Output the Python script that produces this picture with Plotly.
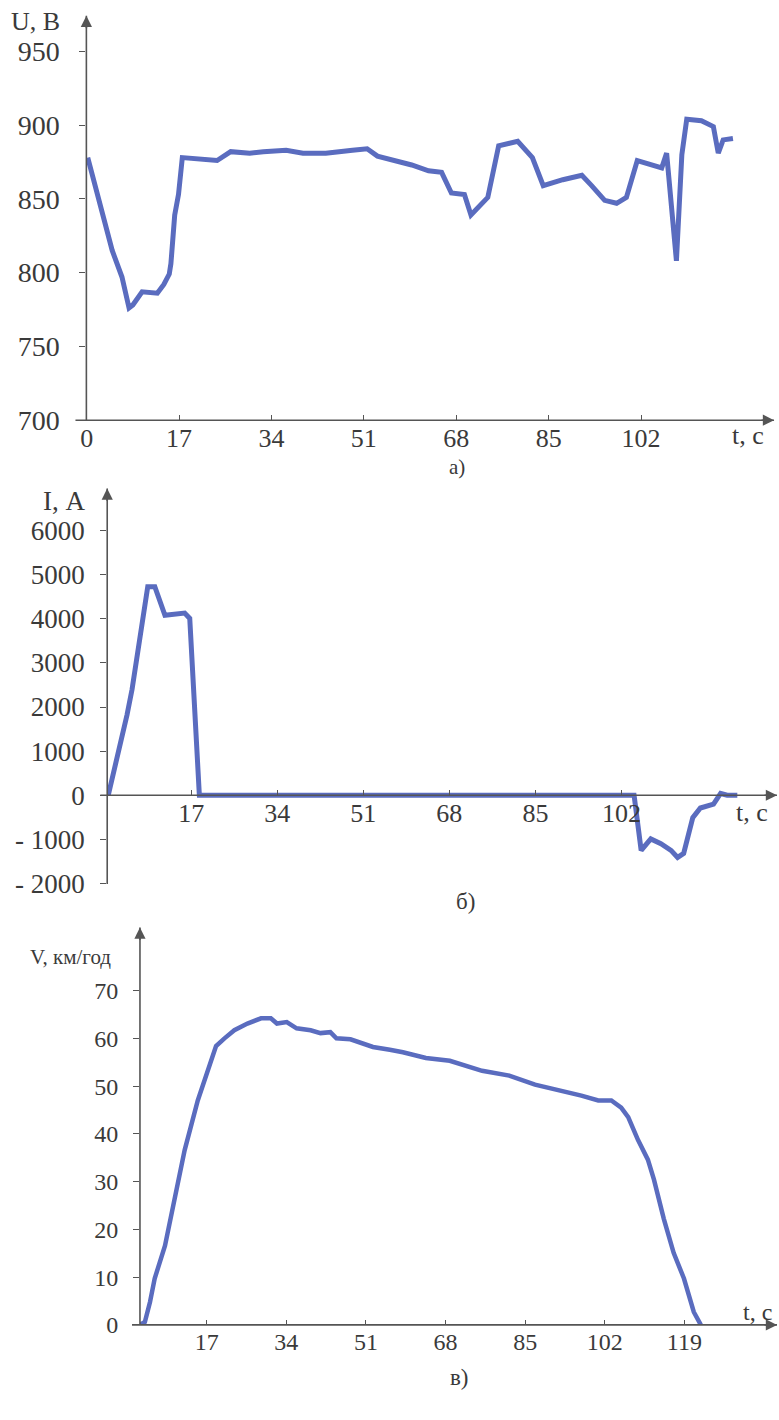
import plotly.graph_objects as go

W, H = 779, 1420

# ---- data ----
t_a = [0.2, 0.7, 2, 3.1, 4.7, 6.5, 7.8, 8.5, 10.2, 13, 14.2, 15.2, 15.5, 16.2, 16.9, 17.6,
       24, 26.5, 30, 32.5, 36.7, 39.8, 44, 48.9, 51.6, 53.5, 56.7, 59.8, 62.9, 65.3, 67.1,
       69.5, 70.7, 73.8, 75.8, 79.3, 82, 84, 87.6, 91.1, 92.9, 95.3, 97.5, 99.3, 101.3,
       105.8, 106.7, 108.5, 109.5, 110.4, 113.1, 115.3, 116.2, 117.1, 118.9]
U_a = [878, 871, 853, 839, 815, 797, 776, 778, 787, 786, 792, 799, 806, 839, 853, 878,
       876, 882, 881, 882, 883, 881, 881, 883, 884, 879, 876, 873, 869, 868, 854,
       853, 839, 851, 886, 889, 878, 859, 863, 866, 859, 849, 847, 851, 876,
       871, 881, 808, 880, 904, 903, 899, 881, 890, 891]

t_b = [0.6, 2.5, 4.3, 5.3, 6.5, 7.8, 8.4, 9.8, 11.8, 15.7, 16.7, 18.6, 60, 104.5, 105.9,
       107.8, 109.8, 111.8, 113.1, 114.3, 116.1, 117.6, 120.2, 121.6, 122.9, 124.9]
I_b = [0, 920, 1820, 2400, 3300, 4130, 4730, 4730, 4080, 4130, 4010, 0, 0, 0, -1250,
       -990, -1100, -1250, -1410, -1320, -510, -290, -200, 40, 0, 0]

t_c = [2.75, 3.8, 4.9, 5.9, 8.1, 10.2, 12.3, 15.1, 17.6, 19.0, 20.8, 22.9, 25.7, 28.6,
       30.7, 32, 34.1, 36.2, 39.2, 41.3, 43.4, 44.7, 47.7, 50.4, 52.5, 56.1, 58.9, 63.8,
       68.9, 75.8, 81.6, 87.1, 92.8, 97, 100.6, 103.4, 105.5, 107, 109.1, 111.2, 112.5,
       114.6, 116.7, 118.9, 121, 122.5]
V_c = [0, 0.6, 4.8, 9.7, 16.6, 26.3, 36.6, 47, 54.5, 58.4, 60, 61.7, 63.1, 64.2,
       64.2, 63.1, 63.4, 62.1, 61.7, 61.1, 61.3, 60, 59.8, 59, 58.2, 57.6, 57.1, 55.9,
       55.3, 53.2, 52.2, 50.3, 49.1, 48, 47, 47, 45.5, 43.5, 38.7, 34.6, 30.4,
       22.2, 15.1, 9.7, 2.7, 0]

xticks_a = [0, 17, 34, 51, 68, 85, 102]
xticks_b = [17, 34, 51, 68, 85, 102]
xticks_c = [17, 34, 51, 68, 85, 102, 119]
yticks_a = [700, 750, 800, 850, 900, 950]
yticks_b = [-2000, -1000, 0, 1000, 2000, 3000, 4000, 5000, 6000]
yticklabels_b = ["- 2000", "- 1000", "0", "1000", "2000", "3000", "4000", "5000", "6000"]
yticks_c = [0, 10, 20, 30, 40, 50, 60, 70]

LINE = "#5a6cbf"
AX = "#555555"
TXT = "#3a3a3a"
FONT = "Times New Roman, Liberation Serif, DejaVu Serif, serif"


def px(x):
    return x / W


def py(y):
    return 1 - y / H


fig = go.Figure()
fig.add_trace(go.Scatter(x=t_a, y=U_a, mode="lines", line=dict(color=LINE, width=5),
                         xaxis="x", yaxis="y", cliponaxis=False, showlegend=False))
fig.add_trace(go.Scatter(x=t_b, y=I_b, mode="lines", line=dict(color=LINE, width=5),
                         xaxis="x2", yaxis="y2", cliponaxis=False, showlegend=False))
fig.add_trace(go.Scatter(x=t_c, y=V_c, mode="lines", line=dict(color=LINE, width=4.5),
                         xaxis="x3", yaxis="y3", cliponaxis=False, showlegend=False))


def xax(domain_px, rng, ticks, size, anchor, position=None):
    d = dict(domain=[px(domain_px[0]), px(domain_px[1])], range=rng, tickmode="array",
             tickvals=ticks, ticktext=[str(t) for t in ticks], ticks="inside", ticklen=5,
             tickcolor=AX, showgrid=False, zeroline=False, showline=False,
             tickfont=dict(family=FONT, size=size, color=TXT))
    if position is not None:
        d["anchor"] = "free"
        d["position"] = position
    else:
        d["anchor"] = anchor
    return d


def yax(domain_py, rng, ticks, labels, size, anchor, standoff):
    return dict(domain=[py(domain_py[0]), py(domain_py[1])], range=rng, tickmode="array",
                tickvals=ticks, ticktext=labels, ticks="outside", ticklen=6, tickcolor=AX,
                showgrid=False, zeroline=False, showline=False, anchor=anchor,
                ticklabelstandoff=standoff,
                tickfont=dict(family=FONT, size=size, color=TXT))


layout = dict(width=W, height=H, margin=dict(l=0, r=0, t=0, b=0),
              paper_bgcolor="white", plot_bgcolor="white", showlegend=False)

# chart a
layout["xaxis"] = xax([81, 770], [-0.05, (770 - 81) / 5.48], xticks_a, 26, "y")
layout["yaxis"] = yax([425, 20], [699.9, 700 + 405 / 74.6 * 50], yticks_a,
                      [str(v) for v in yticks_a], 28, "x", 14)
# chart b
layout["xaxis2"] = xax([102, 775], [(102 - 100) / 5.1, (775 - 100) / 5.1], xticks_b, 26,
                       None, position=py(804.3))
layout["yaxis2"] = yax([894, 497], [-(894 - 804.3) / 44.6 * 1000, (804.3 - 497) / 44.6 * 1000],
                       yticks_b, yticklabels_b, 27, "x2", 10)
# chart c
layout["xaxis3"] = xax([135, 773], [(135 - 122) / 4.72, (773 - 122) / 4.72], xticks_c, 24, "y3")
layout["yaxis3"] = yax([1340, 942], [-0.01, 398 / 4.83], yticks_c,
                       [str(v) for v in yticks_c], 24, "x3", 10)

shapes = []
annotations = []


def axis_arrow(x0, y0, x1, y1):
    shapes.append(dict(type="line", xref="paper", yref="paper", x0=px(x0), y0=py(y0),
                       x1=px(x1), y1=py(y1), line=dict(color=AX, width=1.6)))
    dx = x1 - x0
    dy = y1 - y0
    L = (dx * dx + dy * dy) ** 0.5
    annotations.append(dict(xref="paper", yref="paper", x=px(x1), y=py(y1), text="",
                            showarrow=True, arrowhead=2, arrowsize=1.4, arrowwidth=1.6,
                            arrowcolor=AX, ax=-dx / L * 14, ay=-dy / L * 14))


axis_arrow(81, 425, 81, 16)
axis_arrow(70, 425, 774, 425)
axis_arrow(102, 894, 102, 494)
axis_arrow(95, 804.3, 777, 804.3)
axis_arrow(135, 1340, 135, 938)
axis_arrow(127, 1340, 777, 1340)


def label(text, x, y, size):
    annotations.append(dict(xref="paper", yref="paper", x=px(x), y=py(y), text=text,
                            showarrow=False, xanchor="center", yanchor="middle",
                            font=dict(family=FONT, size=size, color=TXT)))


label("U, В", 30, 22, 26)
label("t, с", 748, 440, 26)
label("а)", 455, 472, 21)
label("I, А", 58, 507, 27)
label("t, с", 752, 822, 26)
label("б)", 463, 912, 23)
label("V, км/год", 65, 968, 21)
label("t, с", 757, 1327, 24)
label("в)", 457, 1393, 23)

layout["shapes"] = shapes
layout["annotations"] = annotations
fig.update_layout(**layout)
fig.write_html("out.html")
